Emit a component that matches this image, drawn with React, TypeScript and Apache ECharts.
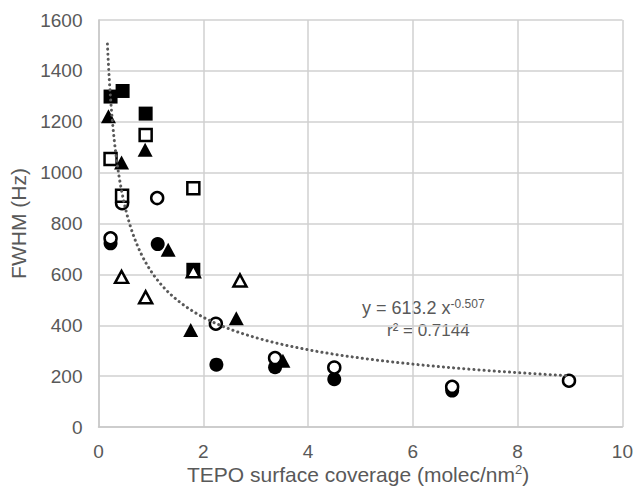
import React, { useEffect, useRef } from "react";
import * as echarts from "echarts";

// x: TEPO surface coverage (molec/nm2), y: FWHM (Hz)
const filledCircles: number[][] = [[0.23, 722], [1.13, 719], [2.25, 245], [3.37, 235], [4.5, 188], [6.75, 143]];
const openCircles: number[][] = [[0.45, 880], [1.12, 900], [0.23, 742], [2.24, 406], [3.37, 271], [4.5, 234], [6.75, 158], [8.98, 182]];
const filledSquares: number[][] = [[0.23, 1299], [0.46, 1321], [0.9, 1232], [1.81, 618]];
const openSquares: number[][] = [[0.9, 1148], [0.23, 1054], [1.81, 939], [0.45, 909]];
const filledTriangles: number[][] = [[0.19, 1222], [0.89, 1090], [0.44, 1040], [1.33, 697], [1.76, 381], [2.63, 428], [3.52, 260]];
const openTriangles: number[][] = [[0.44, 590], [0.9, 510], [2.7, 576], [1.81, 612]];

const trendCoef = 613.2;
const trendExp = -0.507;
const trendStart = 0.17;
const trendEnd = 9;
const trendR2 = "0.7144";

const xTicks = [0, 2, 4, 6, 8, 10];
const yTicks = [0, 200, 400, 600, 800, 1000, 1200, 1400, 1600];

const FONT = "'Liberation Sans', Arial, sans-serif";
const TXT = "#595959";

export default function App() {
  const ref = useRef<HTMLDivElement>(null);
  useEffect(() => {
    if (!ref.current) return;
    const chart = echarts.init(ref.current, null, { renderer: "svg" });

    const trend: number[][] = [];
    const n = 200;
    for (let i = 0; i <= n; i++) {
      const x = trendStart * Math.pow(trendEnd / trendStart, i / n);
      trend.push([x, trendCoef * Math.pow(x, trendExp)]);
    }

    const openStyle = { color: "#ffffff", borderColor: "#000000", borderWidth: 2.5, opacity: 1 };
    const filledStyle = { color: "#000000", opacity: 1 };

    chart.setOption({
      animation: false,
      backgroundColor: "#ffffff",
      grid: { left: 98.5, right: 13, top: 20, bottom: 65 },
      xAxis: {
        type: "value",
        min: xTicks[0],
        max: xTicks[xTicks.length - 1],
        interval: 2,
        axisLine: { show: true, lineStyle: { color: "#c8c8c8", width: 1.5 } },
        axisTick: { show: false },
        splitLine: { show: true, lineStyle: { color: "#d0d0d0", width: 1.5 } },
        axisLabel: { color: TXT, fontSize: 19, fontFamily: FONT, margin: 15 },
      },
      yAxis: {
        type: "value",
        min: yTicks[0],
        max: yTicks[yTicks.length - 1],
        interval: 200,
        axisLine: { show: true, lineStyle: { color: "#c8c8c8", width: 1.5 } },
        axisTick: { show: false },
        splitLine: { show: true, lineStyle: { color: "#d0d0d0", width: 1.5 } },
        axisLabel: { color: TXT, fontSize: 19, fontFamily: FONT, margin: 16, formatter: (v: number) => String(v) },
        name: "FWHM (Hz)",
        nameLocation: "middle",
        nameGap: 64,
        nameTextStyle: { fontSize: 21, color: TXT, fontFamily: FONT },
      },
      series: [
        { type: "scatter", data: filledCircles, symbol: "circle", symbolSize: 14, itemStyle: filledStyle, z: 2 },
        { type: "scatter", data: openCircles, symbol: "circle", symbolSize: 12, itemStyle: openStyle, z: 3 },
        { type: "scatter", data: filledSquares, symbol: "rect", symbolSize: 14, itemStyle: filledStyle, z: 4 },
        { type: "scatter", data: openSquares, symbol: "rect", symbolSize: 12, itemStyle: openStyle, z: 5 },
        { type: "scatter", data: filledTriangles, symbol: "triangle", symbolSize: [15, 14], itemStyle: filledStyle, z: 6 },
        { type: "scatter", data: openTriangles, symbol: "triangle", symbolSize: [13, 12], itemStyle: openStyle, z: 7 },
        {
          type: "line",
          data: trend,
          showSymbol: false,
          symbol: "none",
          smooth: false,
          z: 10,
          lineStyle: { color: "#595959", width: 3, type: [0.1, 5], cap: "round" },
        },
      ],
      graphic: [
        {
          type: "text",
          left: 187,
          top: 463,
          style: {
            text: "{n|TEPO surface coverage (molec/nm}{s|2}{n|)}",
            rich: {
              n: { fontSize: 21, fill: TXT, fontFamily: FONT },
              s: { fontSize: 13, fill: TXT, fontFamily: FONT, verticalAlign: "top", padding: [0, 0, 9, 0] },
            },
          },
        },
        {
          type: "text",
          left: 362,
          top: 298,
          style: {
            text: "{n|y = 613.2 x}{s|-0.507}",
            rich: {
              n: { fontSize: 18, fill: TXT, fontFamily: FONT },
              s: { fontSize: 12, fill: TXT, fontFamily: FONT, verticalAlign: "top", padding: [0, 0, 8, 0] },
            },
          },
        },
        {
          type: "text",
          left: 387,
          top: 322,
          style: { text: "r\u00b2 = " + trendR2, fontSize: 17, fill: TXT, fontFamily: FONT },
        },
      ],
    });
    return () => chart.dispose();
  }, []);
  return <div ref={ref} style={{ position: "fixed", left: 0, top: 0, width: 636, height: 492 }} />;
}
